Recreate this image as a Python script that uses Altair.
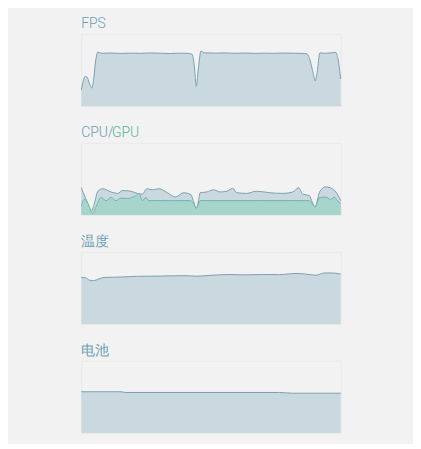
import altair as alt
import pandas as pd

# ---------------- data ----------------
fps_t = [0, 2, 4, 6, 8, 10.7, 12.5, 14.5, 16.7, 20, 30, 40, 50, 60, 70, 80, 90, 100, 108,
         111.7, 114, 116, 118, 120.7, 124, 135, 145, 155, 165, 175, 185, 195, 205, 215, 225,
         228, 231, 234, 236, 238, 240.7, 245, 250, 256.7, 259, 261.7]
fps_v = [18, 28, 33, 32, 26, 20, 30, 50, 60, 58.6, 58.8, 58.4, 58.7, 58.5, 58.9, 58.6, 58.3, 58.7, 58.4,
         57.5, 45, 22, 40, 61, 59, 58.7, 58.9, 58.5, 58.8, 58.4, 58.7, 58.5, 58.8, 58.6, 58.3,
         57.5, 50, 36, 28, 38, 59, 58.5, 58.8, 59.5, 52, 30]

cpu_t = [0, 2, 6, 10, 13, 16.7, 21.7, 30, 36.7, 41.7, 50, 56.7, 61.7, 66, 71.7, 78.3, 86.7, 95,
         103.3, 110.7, 113, 116, 118, 120, 126.7, 133.3, 140, 146.7, 152.7, 156.7, 166.7, 176.7,
         190, 203.3, 213.3, 219.3, 223.3, 230, 233, 236, 238, 240.7, 246.7, 253.3, 258.3, 261.7]
cpu_v = [38, 31, 18, 5, 15, 33, 36.5, 32, 30, 34, 33, 30, 29, 36.5, 35, 36.5, 31, 25,
         31, 28, 20, 9, 18, 31, 32, 35, 32, 33, 37, 31, 30, 33,
         31, 30, 32, 38, 29, 27, 18, 11, 20, 33, 39, 36.5, 29, 20]

gpu_t = [0, 3.3, 6.7, 11.7, 15, 20, 25, 30, 35, 40, 46.7, 55, 58.3, 61.7, 65, 68.3, 75, 90,
         110, 113, 116, 118, 120, 150, 180, 210, 230, 233, 236, 238, 240.7, 246.7, 251.7,
         255, 258.3, 261.7]
gpu_v = [13, 22, 16, 2, 12, 24.5, 20, 24.5, 20, 23.5, 23, 27, 30, 20, 24.5, 20, 20, 20,
         20, 17, 9, 15, 20, 20, 20, 20, 20, 16, 11, 17, 24.5, 25, 21.5,
         25, 20, 16]

temp_t = [0, 4, 8, 12, 18, 23, 40, 56.7, 80, 90, 106.7, 116.7, 130, 150, 163, 183, 200, 210,
          216.7, 226, 236.7, 240, 245, 255, 261.7]
temp_v = [38.7, 38.5, 36.5, 36, 37.5, 38.7, 39.0, 39.6, 39.8, 40, 40.1, 39.7, 40.4, 41.1, 40.8,
          41.1, 41.0, 41.6, 42, 41.5, 40.5, 41.2, 42.4, 42.3, 41.4]

bat_t = [0, 40, 45, 200, 212, 261.7]
bat_v = [57, 57, 56, 56, 55, 55]

W, H = 262, 73
FILL = "#cad9e0"
LINE = "#7a9fae"
GFILL = "#a8d4ce"
GLINE = "#6db4a9"
TITLE_BLUE = "#6a9db6"
TITLE_GREEN = "#4fb89a"
FONT = "Roboto"


def area_layer(t, v, dom, fill, line):
    df = pd.DataFrame({"t": t, "v": v})
    base = alt.Chart(df).encode(
        x=alt.X("t:Q", axis=None, scale=alt.Scale(domain=[0, 261.7], nice=False, zero=False)),
        y=alt.Y("v:Q", axis=None, scale=alt.Scale(domain=dom, nice=False)),
    )
    a = base.mark_area(color=fill, opacity=1, interpolate="monotone")
    l = base.mark_line(color=line, strokeWidth=1, interpolate="monotone")
    return [a, l]


def label(text, color, dx=0):
    return alt.Chart(pd.DataFrame({"s": [text]})).mark_text(
        align="left", baseline="top", fontSize=14, font=FONT, fontWeight=300, color=color
    ).encode(x=alt.value(dx), y=alt.value(-17), text="s:N")


fps = alt.layer(*area_layer(fps_t, fps_v, [0, 80], FILL, LINE), label("FPS", TITLE_BLUE)).properties(width=W, height=H)
cg = alt.layer(
    *area_layer(cpu_t, cpu_v, [0, 100], FILL, LINE),
    *area_layer(gpu_t, gpu_v, [0, 100], GFILL, GLINE),
    label("CPU/", TITLE_BLUE), label("GPU", TITLE_GREEN, 31),
).properties(width=W, height=H)
temp = alt.layer(*area_layer(temp_t, temp_v, [0, 60], FILL, LINE), label("温度", TITLE_BLUE)).properties(width=W, height=H)
bat = alt.layer(*area_layer(bat_t, bat_v, [0, 100], FILL, LINE), label("电池", TITLE_BLUE)).properties(width=W, height=H)

chart = alt.vconcat(fps, cg, temp, bat, spacing=37, bounds="flush").properties(
    background="#f2f2f2",
    padding={"left": 71, "top": 6, "right": 70, "bottom": 8},
).configure_view(stroke="#e9e9e9", strokeWidth=1).configure_text(font=FONT)

chart.save("out.html", embed_options={"renderer": "svg", "actions": False})
